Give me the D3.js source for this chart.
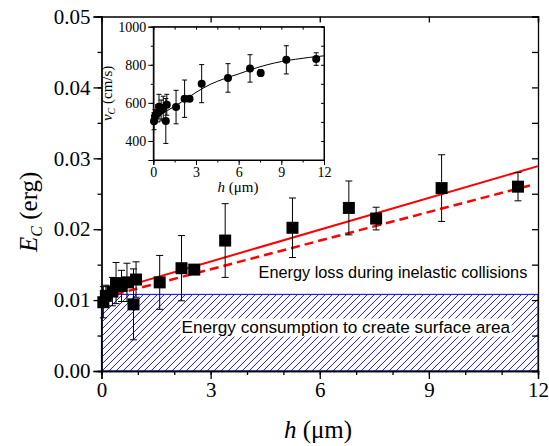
<!DOCTYPE html>
<html>
<head>
<meta charset="utf-8">
<script src="https://cdn.jsdelivr.net/npm/d3@7"></script>
<style>
  body { margin: 0; background: #fff; }
  svg { display: block; }
</style>
</head>
<body>
<div id="chart"></div>
<script>
// ---- data ----
var hPoints = [0.05, 0.12, 0.3, 0.4, 0.55, 0.7, 0.88, 0.95, 1.6, 2.2, 2.55, 3.4, 5.25, 6.8, 7.55, 9.35, 11.45];
var energy = [0.0097, 0.0106, 0.0112, 0.0124, 0.0120, 0.0125, 0.0094, 0.0129, 0.0125, 0.0145, 0.0143, 0.0184, 0.0202, 0.0230, 0.0215, 0.0258, 0.0260];
var energyErr = [0.0022, 0.0015, 0.0020, 0.0029, 0.0022, 0.0027, 0.0050, 0.0025, 0.0038, 0.0046, 0.0006, 0.0052, 0.0042, 0.0038, 0.0016, 0.0047, 0.0020];

var velocity = [504, 530, 545, 580, 560, 575, 505, 590, 578, 622, 621, 701, 731, 781, 757, 826, 830];
var velocityErr = [45, 35, 45, 65, 55, 60, 118, 55, 88, 98, 12, 100, 75, 72, 17, 74, 33];

var fitH = [0, 1, 2, 3, 4, 5, 6, 7, 8, 9, 10, 11, 12];
var fitV = [515, 560, 605, 655, 697, 727, 752, 778, 800, 817, 829, 839, 847];

var solidH = [0, 12];
var solidE = [0.01095, 0.0289];
var dashedH = [0, 11.8];
var dashedE = [0.0103, 0.0262];
var surfaceE = 0.0108;

var xTicks = [0, 3, 6, 9, 12];
var yTicks = [0, 0.01, 0.02, 0.03, 0.04, 0.05];
var insetYTicks = [400, 600, 800, 1000];

var WIDTH = 549, HEIGHT = 446;
var SERIF = '"Liberation Serif", "Times New Roman", serif';
var SANS = '"Liberation Sans", Arial, sans-serif';
var HATCH_STEP = 7;

var svg = d3.select('#chart').append('svg')
    .attr('width', WIDTH)
    .attr('height', HEIGHT);

// main scales
var x = d3.scaleLinear().domain([0, 12]).range([101.5, 538]);
var y = d3.scaleLinear().domain([0, 0.05]).range([371, 16.5]);

// hatched region (clipped diagonal lines)
var hx0 = x(0), hx1 = x(12), hy0 = y(surfaceE), hy1 = y(0);
svg.append('clipPath')
    .attr('id', 'hatch-clip')
    .append('rect')
    .attr('x', hx0)
    .attr('y', hy0)
    .attr('width', hx1 - hx0)
    .attr('height', hy1 - hy0);
var hh = hy1 - hy0;
svg.append('g')
    .attr('clip-path', 'url(#hatch-clip)')
    .selectAll('line')
    .data(d3.range(hx0 - hh, hx1 + HATCH_STEP, HATCH_STEP))
    .enter()
    .append('line')
    .attr('x1', (d) => d)
    .attr('y1', hy1)
    .attr('x2', (d) => d + hh)
    .attr('y2', hy0)
    .style('stroke', '#1a1aff')
    .style('stroke-width', 1);
svg.append('rect')
    .attr('x', hx0)
    .attr('y', hy0)
    .attr('width', hx1 - hx0)
    .attr('height', hh)
    .attr('fill', 'none')
    .style('stroke', '#1f1fff')
    .style('stroke-width', 1.2);

// label inside hatch, on white box
var consLabel = svg.append('text')
    .attr('x', 181.5)
    .attr('y', 333)
    .style('font-family', SANS)
    .style('font-size', '17.2px')
    .text('Energy consumption to create surface area');
var bb = consLabel.node().getBBox();
svg.insert('rect', 'text')
    .attr('x', bb.x - 1)
    .attr('y', bb.y + 1.5)
    .attr('width', bb.width + 2)
    .attr('height', bb.height - 2)
    .attr('fill', '#fff');

svg.append('text')
    .attr('x', 527.3)
    .attr('y', 277.5)
    .attr('text-anchor', 'end')
    .style('font-family', SANS)
    .style('font-size', '16.3px')
    .text('Energy loss during inelastic collisions');

// red fit lines
var line = d3.line().x((d) => x(d[0])).y((d) => y(d[1]));
svg.append('path')
    .attr('d', line(d3.zip(solidH, solidE)))
    .attr('stroke', '#ff0000')
    .attr('stroke-width', 2)
    .attr('fill', 'none');
svg.append('path')
    .attr('d', line(d3.zip(dashedH, dashedE)))
    .attr('stroke', '#ff0000')
    .attr('stroke-width', 2.5)
    .attr('stroke-dasharray', '9,5')
    .attr('fill', 'none');

// error bars + squares
var main = svg.append('g');
var pts = d3.range(hPoints.length);
main.selectAll('.err')
    .data(pts)
    .enter()
    .append('path')
    .attr('d', (i) => {
        var cx = x(hPoints[i]);
        var top = y(energy[i] + energyErr[i]);
        var bot = y(energy[i] - energyErr[i]);
        return `M${cx},${top}V${bot}M${cx - 3.5},${top}H${cx + 3.5}M${cx - 3.5},${bot}H${cx + 3.5}`;
    })
    .attr('stroke', '#000')
    .attr('stroke-width', 1)
    .attr('fill', 'none');
main.selectAll('.sq')
    .data(pts)
    .enter()
    .append('rect')
    .attr('x', (i) => x(hPoints[i]) - 6)
    .attr('y', (i) => y(energy[i]) - 6)
    .attr('width', 12)
    .attr('height', 12)
    .attr('fill', '#000');

// main axes
function styleAxis(g) {
    g.select('.domain').attr('stroke-width', 1.3);
    g.selectAll('.tick line').attr('stroke-width', 1.3);
}
function tickText(g) {
    g.selectAll('.tick text').style('font-size', '21px').style('font-family', SERIF).attr('fill', '#000');
}
svg.append('g')
    .attr('transform', `translate(0,${y(0)})`)
    .call(d3.axisBottom(x).tickValues(d3.range(0, 12.01, 1)).tickSize(4).tickFormat(''))
    .call(styleAxis);
svg.append('g')
    .attr('transform', `translate(0,${y(0)})`)
    .call(d3.axisBottom(x).tickValues(xTicks).tickSize(8).tickPadding(3).tickFormat(d3.format('d')))
    .call(styleAxis)
    .call(tickText);
svg.append('g')
    .attr('transform', `translate(${x(0)},0)`)
    .call(d3.axisLeft(y).tickValues(d3.range(0, 0.0501, 0.005)).tickSize(4).tickFormat(''))
    .call(styleAxis);
svg.append('g')
    .attr('transform', `translate(${x(0)},0)`)
    .call(d3.axisLeft(y).tickValues(yTicks).tickSize(8).tickPadding(3).tickFormat(d3.format('.2f')))
    .call(styleAxis)
    .call(tickText);
svg.append('g')
    .attr('transform', `translate(${x(12)},0)`)
    .call(d3.axisLeft(y).tickValues(d3.range(0, 0.0501, 0.005)).tickSize(6).tickFormat(''))
    .call(styleAxis);
svg.append('g')
    .attr('transform', `translate(0,${y(0.05)})`)
    .call(d3.axisBottom(x).tickValues(xTicks).tickSize(6).tickFormat(''))
    .call(styleAxis);

// axis titles
var yTitle = svg.append('text')
    .attr('transform', `translate(37,${(y(0) + y(0.05)) / 2 + 18})rotate(-90)`)
    .attr('text-anchor', 'middle')
    .style('font-family', SERIF)
    .style('font-size', '25px');
yTitle.append('tspan').style('font-style', 'italic').text('E');
yTitle.append('tspan').style('font-style', 'italic').style('font-size', '16px').attr('dy', 5).text('C');
yTitle.append('tspan').attr('dy', -5).text(' (erg)');

var xTitle = svg.append('text')
    .attr('x', 318)
    .attr('y', 438)
    .attr('text-anchor', 'middle')
    .style('font-family', SERIF)
    .style('font-size', '25px');
xTitle.append('tspan').style('font-style', 'italic').text('h');
xTitle.append('tspan').text(' (\u03bcm)');

// ---- inset ----
var xi = d3.scaleLinear().domain([0, 12]).range([153.3, 324]);
var yi = d3.scaleLinear().domain([300, 1000]).range([160, 26.7]);
var inset = svg.append('g');
inset.append('rect')
    .attr('x', xi(0))
    .attr('y', yi(1000))
    .attr('width', xi(12) - xi(0))
    .attr('height', yi(300) - yi(1000))
    .attr('fill', '#fff')
    .attr('stroke', '#000')
    .attr('stroke-width', 1);

inset.append('path')
    .attr('d', d3.line().curve(d3.curveMonotoneX).x((d) => xi(d[0])).y((d) => yi(d[1]))(d3.zip(fitH, fitV)))
    .attr('stroke', '#000')
    .attr('stroke-width', 1)
    .attr('fill', 'none');

inset.selectAll('.ierr')
    .data(pts)
    .enter()
    .append('path')
    .attr('d', (i) => {
        var cx = xi(hPoints[i]);
        var top = yi(velocity[i] + velocityErr[i]);
        var bot = yi(velocity[i] - velocityErr[i]);
        return `M${cx},${top}V${bot}M${cx - 2.5},${top}H${cx + 2.5}M${cx - 2.5},${bot}H${cx + 2.5}`;
    })
    .attr('stroke', '#000')
    .attr('stroke-width', 1)
    .attr('fill', 'none');
inset.selectAll('.dot')
    .data(pts)
    .enter()
    .append('circle')
    .attr('cx', (i) => xi(hPoints[i]))
    .attr('cy', (i) => yi(velocity[i]))
    .attr('r', 4)
    .attr('fill', '#000');

function insetText(g) {
    g.selectAll('.tick text').style('font-size', '14px').style('font-family', SERIF).attr('fill', '#000');
}
inset.append('g')
    .attr('transform', `translate(0,${yi(300)})`)
    .call(d3.axisBottom(xi).tickValues(d3.range(0, 12.01, 1.5)).tickSize(2.5).tickFormat(''));
inset.append('g')
    .attr('transform', `translate(0,${yi(300)})`)
    .call(d3.axisBottom(xi).tickValues(xTicks).tickSize(5).tickPadding(2).tickFormat(d3.format('d')))
    .call(insetText);
inset.append('g')
    .attr('transform', `translate(${xi(0)},0)`)
    .call(d3.axisLeft(yi).tickValues(d3.range(300, 1001, 100)).tickSize(2.5).tickFormat(''));
inset.append('g')
    .attr('transform', `translate(${xi(0)},0)`)
    .call(d3.axisLeft(yi).tickValues(insetYTicks).tickSize(5).tickPadding(2).tickFormat(d3.format('d')))
    .call(insetText);
inset.append('g')
    .attr('transform', `translate(${xi(12)},0)`)
    .call(d3.axisLeft(yi).tickValues(d3.range(300, 1001, 100)).tickSize(3).tickFormat(''));
inset.append('g')
    .attr('transform', `translate(0,${yi(1000)})`)
    .call(d3.axisBottom(xi).tickValues(d3.range(0, 12.01, 1.5)).tickSize(3).tickFormat(''));

var ixTitle = inset.append('text')
    .attr('x', 238)
    .attr('y', 192)
    .attr('text-anchor', 'middle')
    .style('font-family', SERIF)
    .style('font-size', '15px');
ixTitle.append('tspan').style('font-style', 'italic').text('h');
ixTitle.append('tspan').text(' (\u03bcm)');

var iyTitle = inset.append('text')
    .attr('transform', `translate(112,${(yi(300) + yi(1000)) / 2})rotate(-90)`)
    .attr('text-anchor', 'middle')
    .style('font-family', SERIF)
    .style('font-size', '15px');
iyTitle.append('tspan').style('font-style', 'italic').text('v');
iyTitle.append('tspan').style('font-style', 'italic').style('font-size', '10px').attr('dy', 3).text('C');
iyTitle.append('tspan').attr('dy', -3).text(' (cm/s)');
</script>
</body>
</html>
